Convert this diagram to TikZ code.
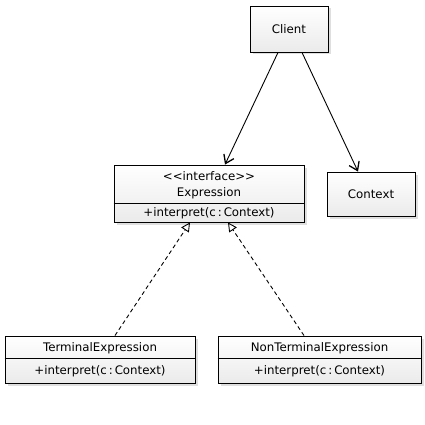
\documentclass[tikz,border=0pt]{standalone}
\usepackage{fontspec}
\setmainfont{DejaVu Sans}
\usetikzlibrary{arrows.meta,shadows}

\begin{document}
\begin{tikzpicture}[x=1pt, y=-1pt, line width=0.9pt, every node/.style={font=\fontsize{11.8}{13}\selectfont}]
    \tikzstyle{cls}=[draw, rectangle, inner sep=0pt, top color=white, bottom color=gray!16,
        drop shadow={shadow xshift=2.5pt, shadow yshift=-2.5pt, opacity=0.25}]
    \tikzstyle{uses}=[-{Straight Barb[length=8pt, width=11pt, line width=1.3pt]}]
    \tikzstyle{impl}=[dash pattern=on 4pt off 3pt, -{Triangle[open, length=9pt, width=9pt, line width=0.9pt]}]

    \useasboundingbox (0,0) rectangle (425,425);

    % classes at the top
    \node[cls, minimum width=78, minimum height=46] (client) at (289,29) {Client};
    \node[cls, minimum width=88, minimum height=44] (context) at (371,194) {Context};

    \node[cls, minimum width=190, minimum height=57] (expr) at (209,193.5) {};
    \node (expr-st) at (209,176) {\textless\kern0pt\textless interface\textgreater\kern0pt\textgreater};
    \node (expr-name) at (209,193) {Expression};
    \node (expr-op) at (209,213) {+interpret(c\,:\,Context)};
    \draw (expr.west |- 0,203) -- (expr.east |- 0,203);

    % the two subclasses
    \foreach \n/\x/\w/\t in {term/100/190/TerminalExpression, nonterm/319.5/203/NonTerminalExpression} {
        \node[cls, minimum width=\w, minimum height=47] (\n) at (\x,359.5) {};
        \node (\n-name) at (\x,348) {\t};
        \node (\n-op) at (\x,371) {+interpret(c\,:\,Context)};
        \draw (\n.west |- 0,358) -- (\n.east |- 0,358);
    }

    \draw[uses] ([xshift=-11pt]client.south) -- ([xshift=16pt]expr.north);
    \draw[uses] ([xshift=13pt]client.south) -- ([xshift=-13pt]context.north);

    \draw[impl] ([xshift=15pt]term.north) -- ([xshift=-19pt]expr.south);
    \draw[impl] ([xshift=-15.5pt]nonterm.north) -- ([xshift=19pt]expr.south);
\end{tikzpicture}
\end{document}
